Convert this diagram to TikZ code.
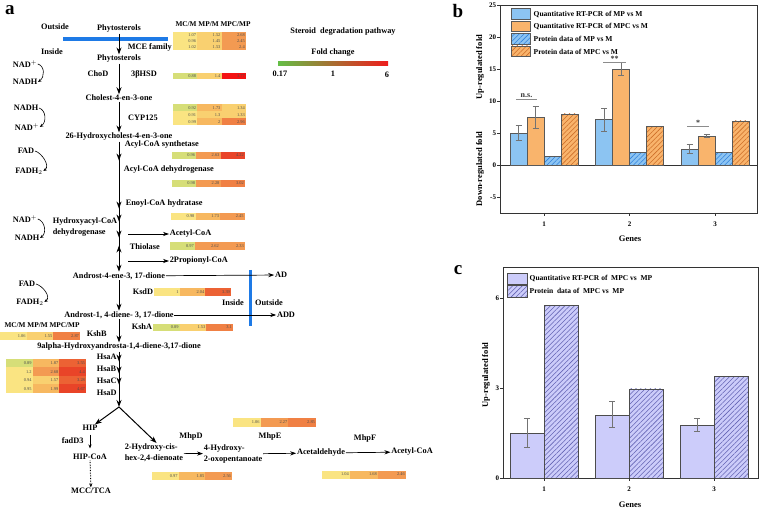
\documentclass[tikz,border=0pt]{standalone}
\usepackage{fontspec}
\setmainfont{Liberation Serif}
\usetikzlibrary{arrows.meta, patterns.meta, decorations.markings}

\definecolor{memblue}{RGB}{30,122,230}
\definecolor{fcGreen}{RGB}{100,190,70}
\definecolor{fcYellow}{RGB}{245,228,80}
\definecolor{fcRed}{RGB}{238,28,28}
\definecolor{hmGr}{RGB}{214,222,120}
\definecolor{hmY}{RGB}{250,228,130}
\definecolor{hmY2}{RGB}{249,208,112}
\definecolor{hmO1}{RGB}{247,184,96}
\definecolor{hmO2}{RGB}{243,154,82}
\definecolor{hmO3}{RGB}{240,128,68}
\definecolor{hmR1}{RGB}{236,98,52}
\definecolor{hmR2}{RGB}{233,68,40}
\definecolor{hmR3}{RGB}{244,18,18}
\definecolor{barBlue}{RGB}{140,196,242}
\definecolor{barOrange}{RGB}{249,180,108}
\definecolor{hatchBlue}{RGB}{50,130,220}
\definecolor{hatchOrange}{RGB}{205,110,40}
\definecolor{barLav}{RGB}{204,204,250}
\definecolor{hatchLav}{RGB}{100,100,180}

% one row of the heat map: name, left x, centre y, cell width, cell height, value/colour list
\newcommand\hmrow[6]{%
  \pgfmathsetmacro\hmtw{#4-2.4}%
  \foreach \v/\c [count=\i from 0] in {#6}
    \node[hm=\c, text width=\hmtw pt, minimum height=#5pt] (#1-\i) at ({#2+(\i+0.5)*#4}, #3) {\v};%
}

\begin{document}
\begin{tikzpicture}[x=1pt, y=-1pt,
  >={Stealth[length=7pt, width=5pt]},
  lbl/.style={font=\fontsize{8.3}{9.5}\selectfont\bfseries, inner sep=0.6pt},
  enz/.style={lbl, anchor=west},
  twoline/.style={lbl, align=left, anchor=west, font=\fontsize{8.3}{11.3}\selectfont\bfseries},
  head/.style={font=\fontsize{7.3}{8}\selectfont\bfseries, inner sep=0.5pt},
  hm/.style={rectangle, fill=#1, inner ysep=0pt, inner xsep=1.2pt, align=right,
             text=black!70, font=\fontsize{4.4}{5}\selectfont},
  flow/.style={->, line width=1pt},
  sideflow/.style={-{Stealth[length=6pt, width=4.2pt]}, line width=0.7pt},
  smallflow/.style={-{Stealth[length=4pt, width=3.2pt]}, line width=0.6pt},
  cofarr/.style={-{Stealth[length=3.5pt, width=3pt]}, line width=0.6pt},
  membrane/.style={draw=memblue, line width=#1},
  panel/.style={font=\fontsize{19}{20}\selectfont\bfseries, inner sep=0pt},
  ticklbl/.style={font=\fontsize{7}{8}\selectfont\bfseries, inner sep=0.8pt},
  axlab/.style={font=\fontsize{8.5}{9}\selectfont\bfseries, inner sep=0pt},
  leg/.style={font=\fontsize{7.5}{8}\selectfont\bfseries, anchor=west, inner sep=0.5pt},
  plotframe/.style={draw=black!80, line width=0.8pt},
  errbar/.style={draw=black!55, line width=0.5pt},
  sig/.style={draw=black!45, line width=0.5pt},
  siglbl/.style={font=\fontsize{8}{9}\selectfont\bfseries, inner sep=0.5pt, text=black!80},
  barMP/.style={fill=barBlue, draw=black!65, line width=0.45pt},
  barMPC/.style={fill=barOrange, draw=black!65, line width=0.45pt},
  barMPh/.style={draw=black!65, line width=0.45pt, preaction={fill=barBlue},
                 pattern={Lines[angle=45, distance=3.4pt, line width=0.55pt]}, pattern color=hatchBlue},
  barMPCh/.style={draw=black!65, line width=0.45pt, preaction={fill=barOrange},
                  pattern={Lines[angle=45, distance=3.4pt, line width=0.55pt]}, pattern color=hatchOrange},
  barC/.style={fill=barLav, draw=black!70, line width=0.6pt},
  barCh/.style={draw=black!70, line width=0.6pt, preaction={fill=barLav},
                pattern={Lines[angle=45, distance=3.4pt, line width=0.55pt]}, pattern color=hatchLav}
]
  \useasboundingbox (0,0) rectangle (760,510);

  %-- Panel a: membrane and fold change scale
  \node[panel] (lbla) at (10,10) {a};
  \draw[membrane=4pt] (63,39) -- (168,39);
  \draw[membrane=3pt] (250,270) -- (250,326);
  \node[lbl] (outsideA) at (55,27)  {Outside};
  \node[lbl] (insideA)  at (52,52)  {Inside};
  \node[lbl] (insideB)  at (233,303) {Inside};
  \node[lbl] (outsideB) at (269,303) {Outside};
  \node[lbl] (title)    at (343,32) {Steroid~ degradation pathway};
  \node[lbl] (fold)     at (333,53) {Fold change};
  \shade[left color=fcGreen, middle color=fcYellow, right color=fcRed] (278,62) rectangle (388,66);
  \node[lbl] (fcmin) at (280,74) {0.17};
  \node[lbl] (fcmid) at (333,74) {1};
  \node[lbl] (fcmax) at (387,75) {6};

  %-- Panel a: compounds
  \node[lbl] (phytoA)  at (119,29)  {Phytosterols};
  \node[lbl] (phytoB)  at (119,59)  {Phytosterols};
  \node[lbl] (cholest) at (119,98)  {Cholest-4-en-3-one};
  \node[lbl] (hydroxy) at (119,137) {26-Hydroxycholest-4-en-3-one};
  \node[lbl] (androA)  at (119,276) {Androst-4-ene-3, 17-dione};
  \node[lbl] (androB)  at (119,315) {Androst-1, 4-diene- 3, 17-dione};
  \node[lbl] (androC)  at (119,347) {9alpha-Hydroxyandrosta-1,4-diene-3,17-dione};
  \node[lbl, anchor=west] (acetylA) at (169,234) {Acetyl-CoA};
  \node[lbl, anchor=west] (propio)  at (169,261) {2Propionyl-CoA};
  \node[lbl] (ad)     at (281,275) {AD};
  \node[lbl] (add)    at (286,315) {ADD};
  \node[lbl] (hip)    at (90,428)  {HIP};
  \node[lbl] (hipcoa) at (90,457)  {HIP-CoA};
  \node[lbl] (mcc)    at (91,491)  {MCC/TCA};
  \node[twoline] (hexa) at (124,453) {2-Hydroxy-cis-\\hex-2,4-dienoate};
  \node[twoline] (oxo)  at (203,454) {4-Hydroxy-\\2-oxopentanoate};
  \node[lbl] (acetald) at (321,453) {Acetaldehyde};
  \node[lbl] (acetylB) at (412,452) {Acetyl-CoA};
  \coordinate (fork)    at (119,407);
  \coordinate (acetSrc) at (128,234);
  \coordinate (propSrc) at (128,261);

  %-- Panel a: enzymes
  \node[enz] (mce)   at (127,47)  {MCE family};
  \node[lbl] (chod)  at (98,74)   {ChoD};
  \node[lbl] (hsd)   at (144,74)  {3βHSD};
  \node[lbl] (cyp)   at (143,118) {CYP125};
  \node[enz] (acs)   at (124,145) {Acyl-CoA synthetase};
  \node[enz] (acd)   at (123,170) {Acyl-CoA dehydrogenase};
  \node[enz] (ech)   at (125,204) {Enoyl-CoA hydratase};
  \node[twoline] (hadh) at (52,227) {Hydroxyacyl-CoA\\dehydrogenase};
  \node[enz] (thio)  at (129,247) {Thiolase};
  \node[enz] (ksdd)  at (132,292) {KsdD};
  \node[enz] (ksha)  at (131,327) {KshA};
  \node[enz] (kshb)  at (86,334)  {KshB};
  \node[enz] (hsaA)  at (96,357)  {HsaA};
  \node[enz] (hsaB)  at (96,369)  {HsaB};
  \node[enz] (hsaC)  at (96,381)  {HsaC};
  \node[enz] (hsaD)  at (96,393)  {HsaD};
  \node[enz] (fadd)  at (61,441)  {fadD3};
  \node[lbl] (mhpD)  at (191,437) {MhpD};
  \node[lbl] (mhpE)  at (270,437) {MhpE};
  \node[lbl] (mhpF)  at (365,439) {MhpF};

  %-- Panel a: cofactors
  \node[lbl] (nadA)  at (25,64)  {NAD$^+$};
  \node[lbl] (nadhA) at (25,82)  {NADH};
  \node[lbl] (nadhB) at (26,108) {NADH};
  \node[lbl] (nadB)  at (27,127) {NAD$^+$};
  \node[lbl] (fadA)  at (26,151) {FAD};
  \node[lbl] (fadhA) at (29,171) {FADH$_2$};
  \node[lbl] (nadC)  at (25,219) {NAD$^+$};
  \node[lbl] (nadhC) at (27,238) {NADH};
  \node[lbl] (fadB)  at (27,284) {FAD};
  \node[lbl] (fadhB) at (30,302) {FADH$_2$};
  \foreach \s/\t in {nadA/nadhA, nadhB/nadB, fadA/fadhA, nadC/nadhC, fadB/fadhB}
    \draw[cofarr] (\s.east) .. controls +(7,2) and +(7,-5) .. (\t.east);

  %-- Panel a: heat map
  \node[head] (hdrA) at (213,24)  {MC/M MP/M MPC/MP};
  \node[head] (hdrB) at (42,325)  {MC/M MP/M MPC/MP};
  \hmrow{hmPa}{173}{35}{24.3}{6}{1.07/hmY, 1.52/hmY2, 2.68/hmO2}
  \hmrow{hmPb}{173}{41}{24.3}{6}{0.96/hmY, 1.45/hmY2, 2.45/hmO2}
  \hmrow{hmPc}{173}{47}{24.3}{6}{1.02/hmY, 1.53/hmY2, 2.4/hmO2}
  \hmrow{hmHsd}{173}{76}{24.3}{6}{0.88/hmGr, 1.4/hmY2, 3.77/hmR3}
  \hmrow{hmCa}{173}{108}{24.3}{7}{0.92/hmGr, 1.73/hmO1, 1.34/hmY2}
  \hmrow{hmCb}{173}{115}{24.3}{7}{0.91/hmY, 1.3/hmY2, 1.33/hmY2}
  \hmrow{hmCc}{173}{122}{24.3}{7}{0.99/hmY, 2/hmO1, 2.96/hmO3}
  \hmrow{hmAcs}{172}{155.5}{24.3}{7}{0.96/hmGr, 2.63/hmO2, 4.22/hmR2}
  \hmrow{hmAcd}{172}{183.5}{24.3}{7}{0.98/hmGr, 2.28/hmO2, 3.02/hmO3}
  \hmrow{hmEch}{171}{216.5}{24.6}{7}{0.98/hmY, 1.73/hmO1, 2.45/hmO2}
  \hmrow{hmThi}{170}{246}{25}{8}{0.97/hmGr, 2.62/hmO2, 2.33/hmO2}
  \hmrow{hmKsd}{154}{292}{25.7}{8}{1/hmY, 2.04/hmO1, 3.39/hmR1}
  \hmrow{hmKsa}{153}{327.5}{26.7}{7}{0.89/hmGr, 1.53/hmY2, 3.1/hmO3}
  \hmrow{hmKsb}{0}{336}{26.7}{8}{1.06/hmY, 1.55/hmY2, 2.87/hmO3}
  \hmrow{hmHa}{6}{363.2}{26.7}{8.5}{0.89/hmGr, 1.87/hmO1, 3.55/hmR1}
  \hmrow{hmHb}{6}{371.7}{26.7}{8.5}{1.2/hmY, 2.68/hmO2, 4.4/hmR2}
  \hmrow{hmHc}{6}{380.2}{26.7}{8.5}{0.94/hmY, 1.57/hmY2, 3.28/hmR1}
  \hmrow{hmHd}{6}{388.7}{26.7}{8.5}{0.95/hmY, 1.99/hmO1, 4.67/hmR2}
  \hmrow{hmMd}{152}{476}{26.7}{8}{0.97/hmY, 1.85/hmO1, 2.56/hmO2}
  \hmrow{hmMe}{233}{422.5}{27.7}{9}{1.06/hmY, 2.27/hmO2, 2.85/hmO3}
  \hmrow{hmMf}{322}{474.5}{28}{8}{1.04/hmY, 1.68/hmO1, 2.46/hmO2}

  %-- Panel a: arrows
  \draw[flow] (phytoA) -- (phytoB);
  \draw[flow] (phytoB) -- (cholest);
  \draw[flow] (cholest) -- (hydroxy);
  \draw[flow, postaction={decorate, decoration={markings,
      mark=at position 19pt with {\arrow{>}},
      mark=at position 67pt with {\arrow{>}},
      mark=at position 80pt with {\arrow{>}},
      mark=at position 96pt with {\arrow{>}},
      mark=at position 104pt with {\arrowreversed{>}}}}]
    (hydroxy) -- (androA);
  \draw[flow] (androA) -- (androB);
  \draw[flow] (androB) -- (androC);
  \draw[flow, postaction={decorate, decoration={markings,
      mark=at position 10pt with {\arrow{>}},
      mark=at position 22pt with {\arrow{>}},
      mark=at position 33pt with {\arrow{>}}}}]
    (androC) -- (fork);
  \draw[flow] (fork) -- (hip);
  \draw[flow] (fork) -- (hexa.75);
  \draw[smallflow, shorten <=3pt, shorten >=5pt] (hip) -- (hipcoa);
  \draw[smallflow, densely dotted, line width=1pt] (hipcoa) -- (mcc);
  \draw[sideflow] (acetSrc) -- (acetylA);
  \draw[sideflow] (propSrc) -- (propio);
  \draw[sideflow] (androA) -- (ad);
  \draw[sideflow] (androB) -- (add);
  \draw[sideflow] (hexa) -- (oxo);
  \draw[sideflow] (oxo) -- (acetald);
  \draw[sideflow] (acetald) -- (acetylB);

  %-- Panel b
  \node[panel] (lblb) at (458,11) {b};
  \begin{scope}[shift={(500,165)}, y=6.4pt]
    \draw[plotframe] (0,-7.5) rectangle (257,25);
    \draw[plotframe] (0,0) -- (257,0);
    \foreach \t in {-5,0,...,25} {
      \draw[plotframe] (0,\t) -- (-3,\t);
      \node[ticklbl, anchor=east] (yb\t) at (-3,\t) {\t};
    }
    \foreach \g/\va/\vb/\vc/\vd in {1/5.0/7.5/1.4/8.0, 2/7.1/15.0/2.0/6.0, 3/2.5/4.5/2.0/6.9} {
      \pgfmathsetmacro\cx{44+85.5*(\g-1)}
      \draw[barMP]   ({\cx-34},0) rectangle ({\cx-17},\va);
      \draw[barMPC]  ({\cx-17},0) rectangle (\cx,\vb);
      \draw[barMPh]  (\cx,0) rectangle ({\cx+17},\vc);
      \draw[barMPCh] ({\cx+17},0) rectangle ({\cx+34},\vd);
      \draw[plotframe] (\cx,-7.5) -- (\cx,-7.95);
      \node[ticklbl] (xb\g) at (\cx,-9.3) {\g};
    }
    \foreach \xe/\lo/\hi in {18.5/3.8/6.2, 35.5/5.7/9.2, 104/5.2/8.9, 121/14.0/16.0, 189.5/1.8/3.3, 206.5/4.3/4.8}
      \draw[errbar] (\xe-3,\lo) -- (\xe+3,\lo) (\xe,\lo) -- (\xe,\hi) (\xe-3,\hi) -- (\xe+3,\hi);
    \draw[sig] (16,10.3) -- (37,10.3) node[siglbl, midway, above=0.6pt] (sigA) {n.s.};
    \draw[sig] (103,16.1) -- (126,16.1) node[siglbl, midway, above=0pt] (sigB) {**};
    \draw[sig] (187,6.1) -- (209,6.1) node[siglbl, midway, above=0pt] (sigC) {*};
  \end{scope}
  \node[axlab, rotate=90] (upB)   at (480,67)  {Up-regulated fold};
  \node[axlab, rotate=90] (downB) at (480,169) {Down-regulated fold};
  \node[axlab] (genesB) at (630,239) {Genes};
  \draw[barMP]   (511,8.5)  rectangle (530,19);
  \draw[barMPC]  (511,21)   rectangle (530,31.5);
  \draw[barMPh]  (511,33.5) rectangle (530,44);
  \draw[barMPCh] (511,46)   rectangle (530,56.5);
  \node[leg] (legB1) at (533,14)   {Quantitative RT-PCR of MP vs M};
  \node[leg] (legB2) at (533,26.5) {Quantitative RT-PCR of MPC vs M};
  \node[leg] (legB3) at (533,39)   {Protein data of MP vs M};
  \node[leg] (legB4) at (533,51.5) {Protein data of MPC vs M};

  %-- Panel c
  \node[panel] (lblc) at (458,270) {c};
  \begin{scope}[shift={(503,478)}, y=30pt]
    \draw[plotframe] (0,0) rectangle (255,7.03);
    \foreach \t in {0,3,6} {
      \draw[plotframe] (0,\t) -- (-3,\t);
      \node[ticklbl, anchor=east] (yc\t) at (-3,\t) {\t};
    }
    \foreach \g/\va/\vb/\lo/\hi in {1/1.5/5.75/1.02/1.98, 2/2.1/2.97/1.68/2.55, 3/1.77/3.4/1.55/2.0} {
      \pgfmathsetmacro\cx{41+85*(\g-1)}
      \draw[barC]  ({\cx-34},0) rectangle (\cx,\va);
      \draw[barCh] (\cx,0) rectangle ({\cx+34},\vb);
      \draw[errbar] ({\cx-20},\lo) -- ({\cx-14},\lo) ({\cx-17},\lo) -- ({\cx-17},\hi) ({\cx-20},\hi) -- ({\cx-14},\hi);
      \draw[plotframe] (\cx,0) -- (\cx,-0.1);
      \node[ticklbl] (xc\g) at (\cx,-0.37) {\g};
    }
  \end{scope}
  \node[axlab, rotate=90] (upC) at (486,375) {Up-regulated fold};
  \node[axlab] (genesC) at (630,505) {Genes};
  \draw[barC]  (507,273) rectangle (527,284.5);
  \draw[barCh] (507,285.5) rectangle (527,297);
  \node[leg] (legC1) at (529,278.5) {Quantitative RT-PCR of\ \ MPC vs\ \ MP};
  \node[leg] (legC2) at (529,291)   {Protein\ \ data of\ \ MPC vs\ \ MP};
\end{tikzpicture}
\end{document}
